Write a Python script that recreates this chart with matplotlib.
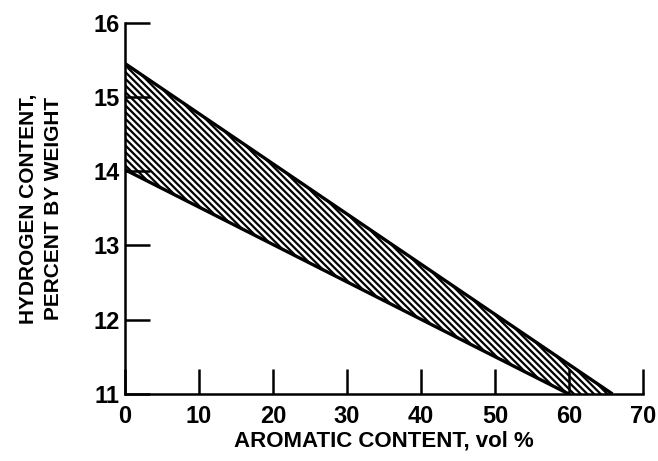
import numpy as np
import matplotlib.pyplot as plt

# boundary lines of the hatched band (aromatic vol %, hydrogen wt %)
upper_x = [0, 65.9]
upper_y = [15.45, 11.0]
lower_x = [0, 60.0]
lower_y = [14.02, 11.0]

x_ticks = [0, 10, 20, 30, 40, 50, 60, 70]
y_ticks = [11, 12, 13, 14, 15, 16]

plt.rcParams['font.family'] = ['Liberation Sans', 'DejaVu Sans']
plt.rcParams['font.weight'] = 'bold'
plt.rcParams['hatch.linewidth'] = 1.6


def main():
    fig = plt.figure(figsize=(6.58, 4.61), dpi=100)
    ax = fig.add_axes([0.19, 0.1453, 0.787, 0.8055])

    # band polygon: along the upper line, back along the lower line
    poly_x = upper_x + lower_x[::-1]
    poly_y = upper_y + lower_y[::-1]
    ax.fill(poly_x, poly_y, facecolor='white', edgecolor='black', lw=0,
            hatch='\\' * 5)
    ax.plot(upper_x, upper_y, color='black', lw=2.4, solid_capstyle='butt')
    ax.plot(lower_x, lower_y, color='black', lw=2.4, solid_capstyle='butt')

    ax.set_xlim(0, 70)
    ax.set_ylim(11, 16)
    ax.set_xticks(x_ticks)
    ax.set_yticks(y_ticks)
    ax.tick_params(axis='both', direction='in', length=18, width=1.8,
                   labelsize=17)
    ax.tick_params(axis='x', pad=8)
    ax.tick_params(axis='y', pad=4)
    for s in ['top', 'right']:
        ax.spines[s].set_visible(False)
    for s in ['left', 'bottom']:
        ax.spines[s].set_linewidth(1.8)

    ax.set_xlabel('AROMATIC CONTENT, vol %', fontsize=16, fontweight='bold',
                  labelpad=2)
    ax.set_ylabel('HYDROGEN CONTENT,\nPERCENT BY WEIGHT', fontsize=15,
                  fontweight='bold', labelpad=22, linespacing=1.4)

    fig.savefig('out.png', dpi=100)


if __name__ == "__main__":
    main()
